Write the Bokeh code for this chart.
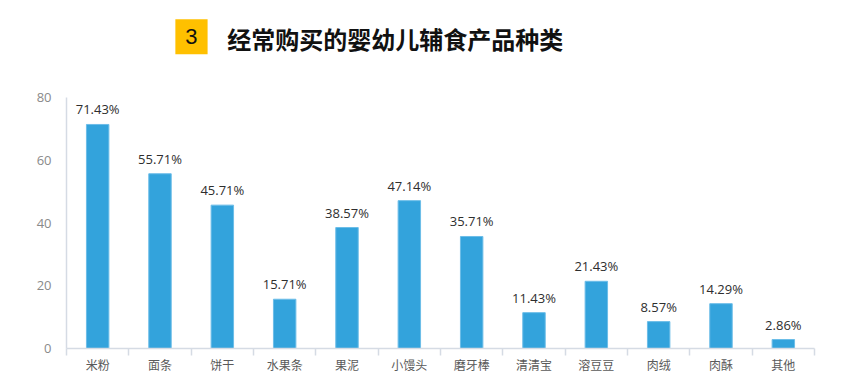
from bokeh.plotting import figure
from bokeh.models import (Range1d, LinearAxis, FixedTicker, ColumnDataSource,
                          Label, LabelSet)
from bokeh.core.properties import value
from bokeh.embed import file_html
from bokeh.resources import INLINE

categories = ["米粉", "面条", "饼干", "水果条", "果泥", "小馒头", "磨牙棒",
              "清清宝", "溶豆豆", "肉绒", "肉酥", "其他"]
values = [71.43, 55.71, 45.71, 15.71, 38.57, 47.14, 35.71,
          11.43, 21.43, 8.57, 14.29, 2.86]
y_ticks = [0, 20, 40, 60, 80]
title_num = "3"
title_text = "经常购买的婴幼儿辅食产品种类"

n = len(categories)
pos = [i + 0.5 for i in range(n)]
edges = list(range(n + 1))
labels = [f"{v:.2f}%" for v in values]
src = ColumnDataSource(dict(x=pos, val=values, lab=labels))

p = figure(width=830, height=376, x_range=Range1d(0, n), y_range=Range1d(0, 108.4),
           output_backend="svg", toolbar_location=None, x_axis_location=None,
           min_border_left=66, min_border_right=16, min_border_top=8,
           min_border_bottom=28)
p.outline_line_color = None
p.grid.visible = False
p.background_fill_color = "white"

p.vbar(x="x", top="val", width=0.36, source=src,
       fill_color="#33a3dc", line_color="#6cbde8", line_width=1)

p.add_layout(LabelSet(x="x", y="val", text="lab", source=src,
                      text_align="center", text_baseline="bottom", y_offset=6,
                      text_font_size="13px", text_color="#2e2e2e",
                      text_font=value("Open Sans")))

# y axis
ya = p.yaxis[0]
ya.ticker = FixedTicker(ticks=y_ticks)
ya.bounds = (0, 80)
ya.major_tick_line_color = None
ya.minor_tick_line_color = None
ya.axis_line_color = "#d5dbe4"
ya.axis_line_width = 1.5
ya.major_label_text_color = "#8a8a8a"
ya.major_label_text_font = "Open Sans"
ya.major_label_text_font_size = "13px"
ya.major_label_standoff = 9

# category axis: labels at centres, ticks at boundaries
ca = LinearAxis(ticker=FixedTicker(ticks=pos, minor_ticks=edges),
                major_label_overrides={x: c for x, c in zip(pos, categories)})
ca.axis_line_color = "#d5dbe4"
ca.axis_line_width = 1.5
ca.major_tick_line_color = None
ca.major_tick_out = 7
ca.major_tick_in = 0
ca.minor_tick_line_color = "#d5dbe4"
ca.minor_tick_line_width = 1.5
ca.minor_tick_out = 7
ca.minor_tick_in = 0
ca.major_label_text_font = "Noto Sans CJK SC"
ca.major_label_text_font_size = "12px"
ca.major_label_text_color = "#5a5a5a"
ca.major_label_standoff = 0
p.add_layout(ca, "below")

# title
p.add_layout(Label(x=2.005, y=99.4, text=title_num, text_font="Liberation Sans",
                   text_font_size="22px", text_color="#111111",
                   text_baseline="middle", text_align="center",
                   background_fill_color="#ffc000", padding=(10, 10)))
p.add_layout(Label(x=2.58, y=98.8, text=title_text, text_font="Noto Sans CJK SC",
                   text_font_size="24px", text_font_style="bold",
                   text_color="#111111", text_baseline="middle"))

open("out.html", "w").write(file_html(p, INLINE))
